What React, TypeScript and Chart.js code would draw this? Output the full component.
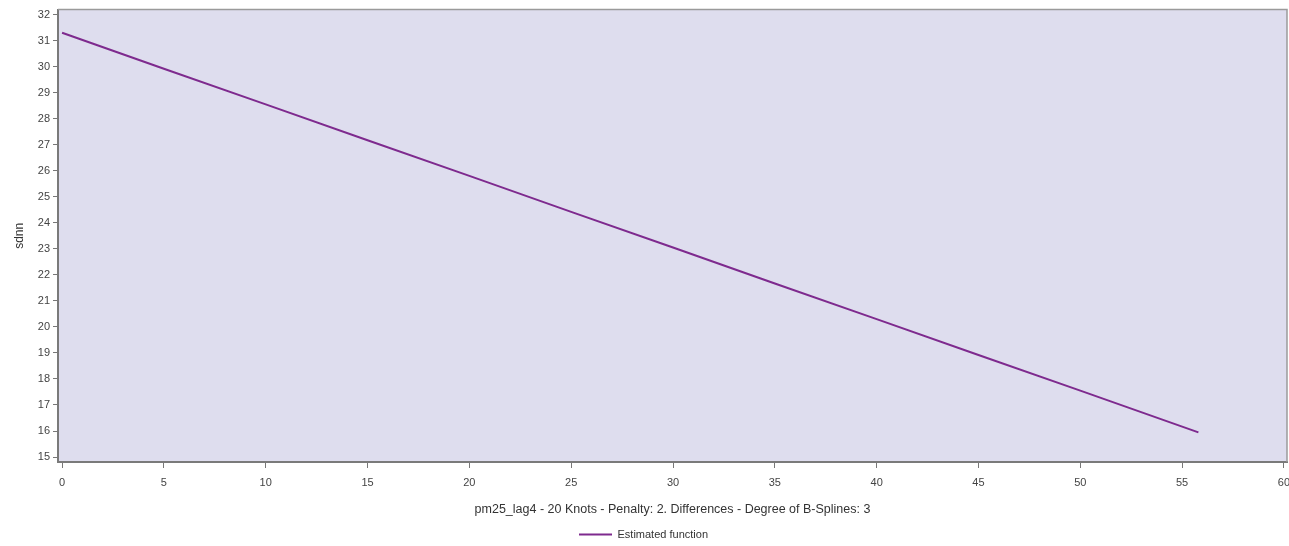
import React, { useEffect, useRef } from "react";
import { Chart, registerables } from "chart.js";

Chart.register(...registerables);

const xValues = [0, 5, 10, 15, 20, 25, 30, 35, 40, 45, 50, 55.8];
const yValues = [31.3, 29.92, 28.55, 27.17, 25.8, 24.42, 23.05, 21.67, 20.3, 18.92, 17.55, 15.95];
const seriesLabel = "Estimated function";
const xTitle = "pm25_lag4 - 20 Knots - Penalty: 2. Differences - Degree of B-Splines: 3";
const yTitle = "sdnn";

const bgPlugin = {
  id: "bgPlugin",
  beforeDraw(chart: any) {
    const { ctx, chartArea } = chart;
    if (!chartArea) return;
    ctx.save();
    ctx.fillStyle = "#DEDDEE";
    ctx.fillRect(chartArea.left, chartArea.top, chartArea.right - chartArea.left, chartArea.bottom - chartArea.top);
    ctx.restore();
  },
  afterDraw(chart: any) {
    const { ctx, chartArea } = chart;
    ctx.save();
    ctx.strokeStyle = "#9a9a9a";
    ctx.lineWidth = 1.5;
    ctx.beginPath();
    ctx.moveTo(chartArea.left, chartArea.top);
    ctx.lineTo(chartArea.right, chartArea.top);
    ctx.lineTo(chartArea.right, chartArea.bottom);
    ctx.stroke();
    ctx.restore();
  },
};

export default function App() {
  const ref = useRef<HTMLCanvasElement>(null);
  useEffect(() => {
    document.body.style.margin = "0";
    document.body.style.overflow = "hidden";
    const font = "'Liberation Sans', Arial, sans-serif";
    const chart = new Chart(ref.current as HTMLCanvasElement, {
      type: "line",
      data: {
        datasets: [
          {
            label: seriesLabel,
            data: xValues.map((x, i) => ({ x, y: yValues[i] })),
            borderColor: "#7E2A8E",
            backgroundColor: "#7E2A8E",
            borderWidth: 2,
            pointRadius: 0,
            tension: 0,
          },
        ],
      },
      options: {
        animation: false,
        responsive: false,
        maintainAspectRatio: false,
        layout: { padding: { top: 8, right: 2, left: 0, bottom: 0 } },
        scales: {
          x: {
            type: "linear",
            min: -0.2,
            max: 60.15,
            afterFit: (s: any) => {
              s.height = 66;
              s.paddingRight = 0;
            },
            ticks: {
              stepSize: 5,
              includeBounds: false,
              color: "#444",
              font: { family: font, size: 11 },
              padding: 8,
              maxRotation: 0,
            },
            grid: { drawOnChartArea: false, drawTicks: true, tickLength: 6, color: "#777" },
            border: { display: true, color: "#7a7a7a", width: 2 },
            title: {
              display: true,
              text: xTitle,
              color: "#333",
              font: { family: font, size: 12.5 },
              padding: { top: 0, bottom: 11 },
            },
          },
          y: {
            type: "linear",
            min: 14.81,
            max: 32.19,
            afterFit: (s: any) => {
              s.width = 58;
            },
            ticks: {
              stepSize: 1,
              includeBounds: false,
              color: "#444",
              font: { family: font, size: 11 },
              padding: 3,
            },
            grid: { drawOnChartArea: false, drawTicks: true, tickLength: 5, color: "#777" },
            border: { display: true, color: "#7a7a7a", width: 2 },
            title: {
              display: true,
              text: yTitle,
              color: "#333",
              font: { family: font, size: 12 },
              padding: { top: 12, bottom: 0 },
            },
          },
        },
        plugins: {
          legend: {
            position: "bottom",
            labels: {
              usePointStyle: true,
              pointStyle: "line",
              pointStyleWidth: 33,
              boxWidth: 33,
              padding: 1,
              color: "#333",
              font: { family: font, size: 11 },
            },
          },
          tooltip: { enabled: false },
        },
      },
      plugins: [bgPlugin],
    } as any);
    return () => chart.destroy();
  }, []);
  return (
    <div style={{ width: 1289, height: 546, overflow: "hidden" }}>
      <canvas ref={ref} width={1289} height={550} style={{ display: "block" }} />
    </div>
  );
}
